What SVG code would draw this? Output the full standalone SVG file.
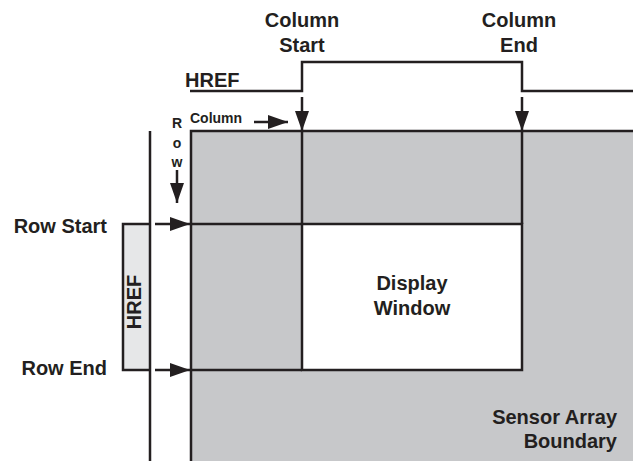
<svg xmlns="http://www.w3.org/2000/svg" width="633" height="461" viewBox="0 0 633 461">
<style>
.ln{stroke:#231f20;stroke-width:2.5;fill:none}
.t{font-family:"Liberation Sans",Arial,sans-serif;font-weight:bold;font-size:20px;fill:#231f20}
.s{font-family:"Liberation Sans",Arial,sans-serif;font-weight:bold;font-size:14px;fill:#231f20}
</style>
<defs>
<marker id="ah" markerUnits="userSpaceOnUse" markerWidth="22" markerHeight="16" refX="20" refY="7" orient="auto">
<path d="M0,0 L20,7 L0,14 Z" fill="#231f20"/>
</marker>
</defs>
<rect width="633" height="461" fill="#ffffff"/>
<g id="sensor-array">
<rect x="191" y="131" width="442" height="330" fill="#c7c8ca"/>
<path class="ln" d="M191,461 V131 H633"/>
<text class="t" x="617" y="424" text-anchor="end">Sensor Array</text>
<text class="t" x="617" y="448" text-anchor="end">Boundary</text>
</g>
<g id="display-window">
<rect x="302" y="224" width="220" height="146" class="ln" style="fill:#ffffff"/>
<text class="t" x="412" y="290" text-anchor="middle">Display</text>
<text class="t" x="412" y="315" text-anchor="middle">Window</text>
</g>
<g id="grid-lines">
<path class="ln" d="M302,131 V224 M522,131 V224 M191,224 H302 M191,370 H302"/>
</g>
<g id="href-top">
<path class="ln" d="M190,91 H302 V62 H522 V91 H633"/>
<text class="t" x="185" y="87">HREF</text>
</g>
<g id="href-left">
<path d="M150,224 H123 V370 H150" fill="#e6e7e8" stroke="#231f20" stroke-width="2.5"/>
<path class="ln" d="M150,131 V461"/>
<text class="t" transform="translate(141,302) rotate(-90)" text-anchor="middle">HREF</text>
</g>
<g id="label-column-start">
<text class="t" x="302" y="27" text-anchor="middle">Column</text>
<text class="t" x="302" y="52" text-anchor="middle">Start</text>
</g>
<g id="label-column-end">
<text class="t" x="519" y="27" text-anchor="middle">Column</text>
<text class="t" x="519" y="52" text-anchor="middle">End</text>
</g>
<g id="label-row-start"><text class="t" x="107" y="233" text-anchor="end">Row Start</text></g>
<g id="label-row-end"><text class="t" x="107" y="375" text-anchor="end">Row End</text></g>
<g id="label-column-small"><text class="s" x="190" y="123">Column</text></g>
<g id="label-row-small">
<text class="s" x="177" y="128" text-anchor="middle">R</text>
<text class="s" x="177" y="148" text-anchor="middle">o</text>
<text class="s" x="177" y="167" text-anchor="middle">w</text>
</g>
<g id="connectors">
<line class="ln" x1="302" y1="97" x2="302" y2="131" marker-end="url(#ah)"/>
<line class="ln" x1="522" y1="97" x2="522" y2="131" marker-end="url(#ah)"/>
<line class="ln" x1="254" y1="122" x2="288" y2="122" marker-end="url(#ah)"/>
<line class="ln" x1="177" y1="170" x2="177" y2="203" marker-end="url(#ah)"/>
<line class="ln" x1="155" y1="224" x2="190" y2="224" marker-end="url(#ah)"/>
<line class="ln" x1="155" y1="370" x2="190" y2="370" marker-end="url(#ah)"/>
</g>
</svg>
